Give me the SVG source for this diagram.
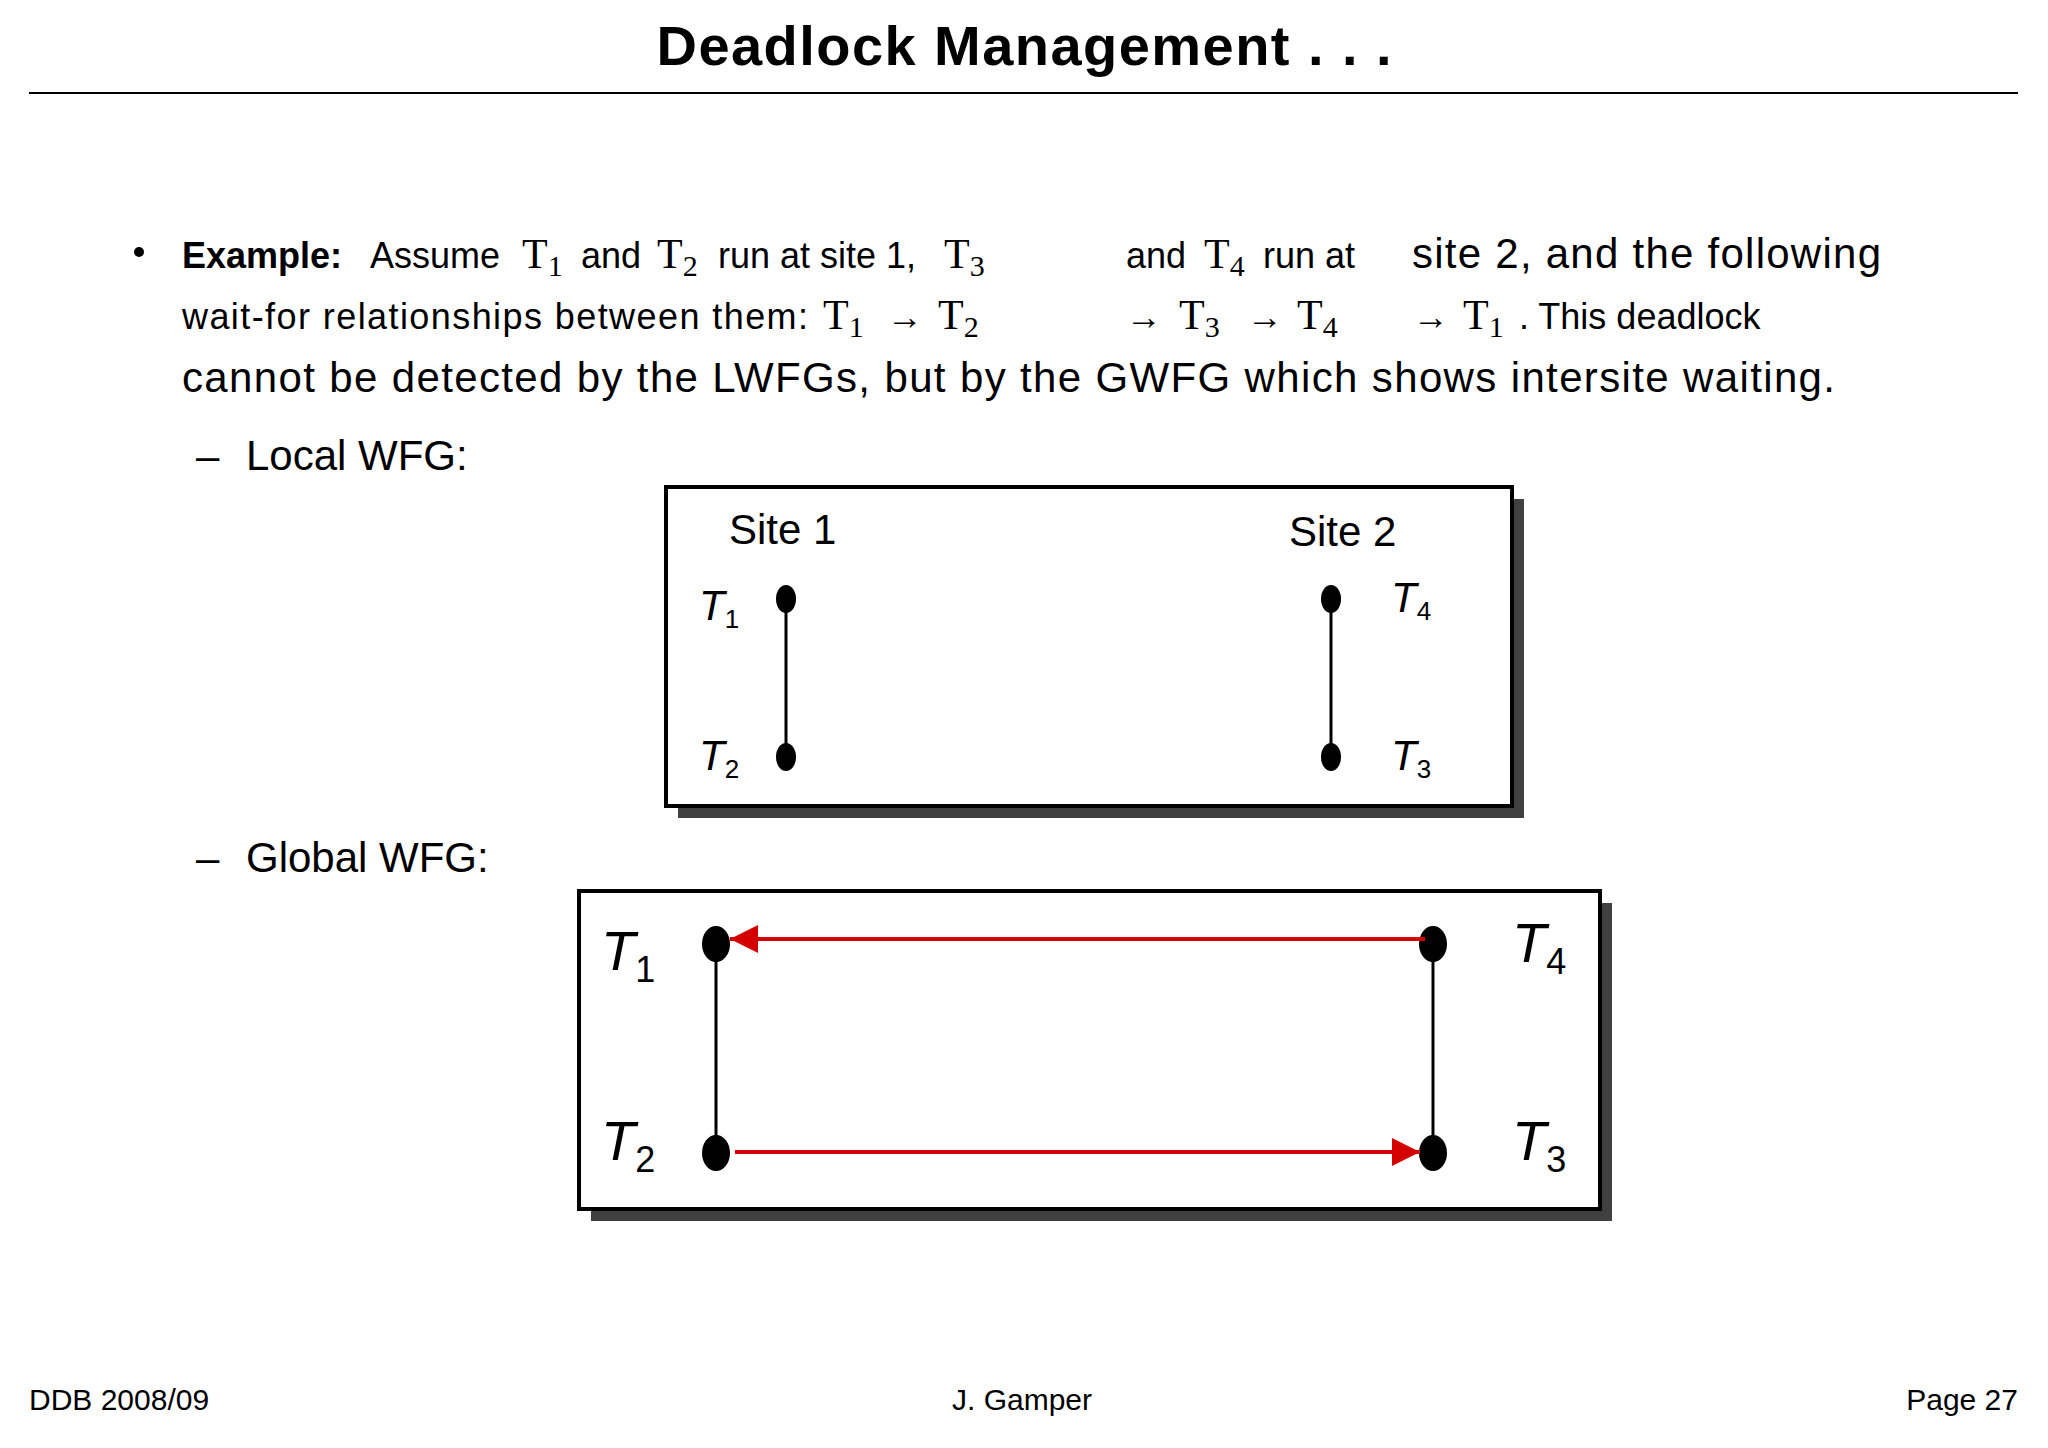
<svg xmlns="http://www.w3.org/2000/svg" width="2048" height="1448" viewBox="0 0 2048 1448">
<style>
.s{font-family:"Liberation Sans",Arial,sans-serif;fill:#000}
.tm{font-family:"Liberation Serif","Times New Roman",serif;fill:#000}
.it{font-family:"Liberation Sans",Arial,sans-serif;font-style:italic;fill:#000}
.box{fill:#fff;stroke:#000;stroke-width:4}
.sh{fill:#404040}
.bl{stroke:#000;stroke-width:3;fill:none}
.rd{stroke:#d40000;stroke-width:4;fill:none}
</style>
<defs>
<marker id="ab" viewBox="0 0 10 10" refX="10" refY="5" markerWidth="6" markerHeight="7" markerUnits="userSpaceOnUse" orient="auto"><path d="M0,0L10,5L0,10z" fill="#000"/></marker>
<marker id="ab2" viewBox="0 0 10 10" refX="10" refY="5" markerWidth="8" markerHeight="8" orient="auto" markerUnits="userSpaceOnUse"><path d="M0,0L10,5L0,10z" fill="#000"/></marker>
<marker id="ar" viewBox="0 0 10 10" refX="10" refY="5" markerWidth="7" markerHeight="7" orient="auto"><path d="M0,0L10,5L0,10z" fill="#d40000"/></marker>
</defs>
<rect width="2048" height="1448" fill="#fff"/>
<text class="s" x="1024" y="65" font-size="56" font-weight="bold" text-anchor="middle" textLength="735">Deadlock Management . . .</text>
<line x1="29" y1="93" x2="2018" y2="93" stroke="#000" stroke-width="2"/>
<g id="text">
<circle cx="139" cy="252" r="5" fill="#000"/>
<text class="s" y="268" font-size="36"><tspan x="182" font-weight="bold">Example:</tspan><tspan x="370">Assume</tspan></text>
<text class="tm" x="522" y="268" font-size="42">T<tspan font-size="30" dy="8">1</tspan></text>
<text class="s" x="581" y="268" font-size="36">and</text>
<text class="tm" x="657" y="268" font-size="42">T<tspan font-size="30" dy="8">2</tspan></text>
<text class="s" x="718" y="268" font-size="36">run at site 1,</text>
<text class="tm" x="944" y="268" font-size="42">T<tspan font-size="30" dy="8">3</tspan></text>
<text class="s" x="1126" y="268" font-size="36">and</text>
<text class="tm" x="1204" y="268" font-size="42">T<tspan font-size="30" dy="8">4</tspan></text>
<text class="s" x="1263" y="268" font-size="36">run at</text>
<text class="s" x="1412" y="268" font-size="42" textLength="469">site 2, and the following</text>
<text class="s" x="182" y="329" font-size="36" textLength="626">wait-for relationships between them:</text>
<text class="tm" x="823" y="329" font-size="42">T<tspan font-size="30" dy="8">1</tspan></text>
<text class="s" x="887" y="329" font-size="36">→</text>
<text class="tm" x="938" y="329" font-size="42">T<tspan font-size="30" dy="8">2</tspan></text>
<text class="s" x="1126" y="329" font-size="36">→</text>
<text class="tm" x="1179" y="329" font-size="42">T<tspan font-size="30" dy="8">3</tspan></text>
<text class="s" x="1247" y="329" font-size="36">→</text>
<text class="tm" x="1297" y="329" font-size="42">T<tspan font-size="30" dy="8">4</tspan></text>
<text class="s" x="1413" y="329" font-size="36">→</text>
<text class="tm" x="1463" y="329" font-size="42">T<tspan font-size="30" dy="8">1</tspan></text>
<text class="s" x="1519" y="329" font-size="36">. This deadlock</text>
<text class="s" x="182" y="392" font-size="42" textLength="1653">cannot be detected by the LWFGs, but by the GWFG which shows intersite waiting.</text>
<text class="s" x="196" y="470" font-size="42">–</text>
<text class="s" x="246" y="470" font-size="42">Local WFG:</text>
<text class="s" x="196" y="872" font-size="42">–</text>
<text class="s" x="246" y="872" font-size="42">Global WFG:</text>
</g>
<g id="local">
<rect class="sh" x="678" y="499" width="846" height="319"/>
<rect class="box" x="666" y="487" width="846" height="319"/>
<text class="s" x="729" y="544" font-size="42">Site 1</text>
<text class="s" x="1289" y="546" font-size="42">Site 2</text>
<text class="it" x="699" y="620" font-size="42">T<tspan font-size="26" dy="8" font-style="normal">1</tspan></text>
<text class="it" x="699" y="770" font-size="42">T<tspan font-size="26" dy="8" font-style="normal">2</tspan></text>
<text class="it" x="1391" y="612" font-size="42">T<tspan font-size="26" dy="8" font-style="normal">4</tspan></text>
<text class="it" x="1391" y="770" font-size="42">T<tspan font-size="26" dy="8" font-style="normal">3</tspan></text>
<g id="l1"><ellipse cx="786" cy="599" rx="10" ry="14"/></g>
<g id="l2"><ellipse cx="786" cy="757" rx="10" ry="14"/></g>
<g id="l4"><ellipse cx="1331" cy="599" rx="10" ry="14"/></g>
<g id="l3"><ellipse cx="1331" cy="757" rx="10" ry="14"/></g>
</g>
<g id="global">
<rect class="sh" x="591" y="903" width="1021" height="318"/>
<rect class="box" x="579" y="891" width="1021" height="318"/>
<text class="it" x="601" y="970" font-size="56">T<tspan font-size="36" dy="12" font-style="normal">1</tspan></text>
<text class="it" x="601" y="1160" font-size="56">T<tspan font-size="36" dy="12" font-style="normal">2</tspan></text>
<text class="it" x="1512" y="962" font-size="56">T<tspan font-size="36" dy="12" font-style="normal">4</tspan></text>
<text class="it" x="1512" y="1160" font-size="56">T<tspan font-size="36" dy="12" font-style="normal">3</tspan></text>
<g id="g1"><ellipse cx="716" cy="944" rx="14" ry="18"/></g>
<g id="g2"><ellipse cx="716" cy="1153" rx="14" ry="18"/></g>
<g id="g4"><ellipse cx="1433" cy="944" rx="14" ry="18"/></g>
<g id="g3"><ellipse cx="1433" cy="1153" rx="14" ry="18"/></g>
</g>
<g id="connectors">
<line class="bl" x1="786" y1="605" x2="786" y2="752" marker-end="url(#ab)" style="--m:0"/>
<line class="bl" x1="1331" y1="752" x2="1331" y2="606" marker-end="url(#ab)"/>
<line class="bl" x1="716" y1="950" x2="716" y2="1145" marker-end="url(#ab2)"/>
<line class="bl" x1="1433" y1="1148" x2="1433" y2="952" marker-end="url(#ab2)"/>
<line class="rd" x1="1425" y1="939" x2="730" y2="939" marker-end="url(#ar)"/>
<line class="rd" x1="735" y1="1152" x2="1420" y2="1152" marker-end="url(#ar)"/>
</g>
<g id="footer">
<text class="s" x="29" y="1410" font-size="30">DDB 2008/09</text>
<text class="s" x="1022" y="1410" font-size="30" text-anchor="middle">J. Gamper</text>
<text class="s" x="2018" y="1410" font-size="30" text-anchor="end">Page 27</text>
</g>
</svg>
